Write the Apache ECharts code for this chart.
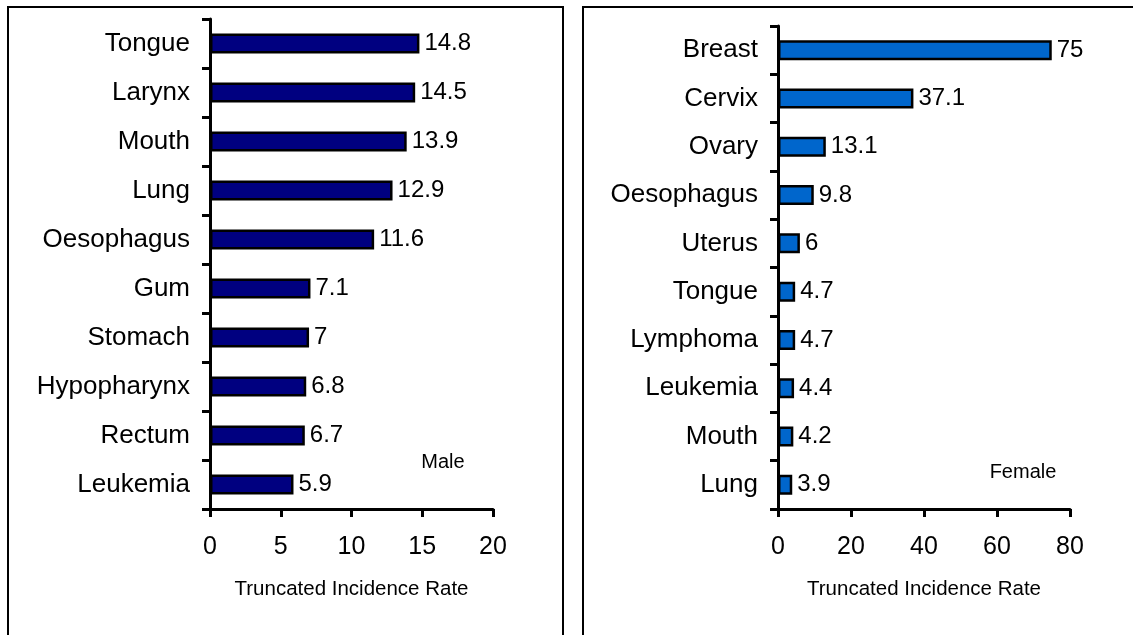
<!DOCTYPE html>
<html>
<head>
<meta charset="utf-8">
<script src="https://cdn.jsdelivr.net/npm/echarts@6/dist/echarts.min.js"></script>
<style>
html,body{margin:0;padding:0;background:#fff;}
#c{width:1133px;height:635px;}
</style>
</head>
<body>
<div id="c"></div>
<script>
var maleCategories = ['Tongue','Larynx','Mouth','Lung','Oesophagus','Gum','Stomach','Hypopharynx','Rectum','Leukemia'];
var maleValues = [14.8,14.5,13.9,12.9,11.6,7.1,7,6.8,6.7,5.9];
var femaleCategories = ['Breast','Cervix','Ovary','Oesophagus','Uterus','Tongue','Lymphoma','Leukemia','Mouth','Lung'];
var femaleValues = [75,37.1,13.1,9.8,6,4.7,4.7,4.4,4.2,3.9];
var axisTitle = 'Truncated Incidence Rate';
var maleLabel = 'Male';
var femaleLabel = 'Female';

var FONT = 'Liberation Sans, Arial, sans-serif';
var chart = echarts.init(document.getElementById('c'));

function xAx(idx, max, interval){
  return {
    type:'value', gridIndex:idx, min:0, max:max, interval:interval,
    name: axisTitle, nameLocation:'middle', nameGap:70,
    nameTextStyle:{color:'#000', fontSize:20.5, fontFamily:FONT},
    axisLine:{show:true, lineStyle:{color:'#000', width:3}},
    axisTick:{show:true, length:8, lineStyle:{color:'#000', width:3}},
    axisLabel:{color:'#000', fontSize:25, fontFamily:FONT, margin:26},
    splitLine:{show:false}
  };
}
function yAx(idx, cats){
  return {
    type:'category', gridIndex:idx, data:cats, inverse:true,
    axisLine:{show:true, lineStyle:{color:'#000', width:3}},
    axisTick:{show:true, length:8, lineStyle:{color:'#000', width:3}},
    axisLabel:{color:'#000', fontSize:26, fontFamily:FONT, margin:20},
    splitLine:{show:false}
  };
}
function ser(idx, vals, color){
  return {
    type:'bar', xAxisIndex:idx, yAxisIndex:idx, data:vals, barWidth:20,
    itemStyle:{color:color, borderColor:'#000', borderWidth:2.5},
    label:{show:true, position:'right', distance:5, color:'#000', fontSize:24, fontFamily:FONT},
    animation:false
  };
}

chart.setOption({
  animation:false,
  backgroundColor:'#fff',
  grid:[
    {left:210, right:640, top:19, bottom:126},
    {left:778, right:63, top:26, bottom:126}
  ],
  xAxis:[xAx(0,20,5), xAx(1,80,20)],
  yAxis:[yAx(0,maleCategories), yAx(1,femaleCategories)],
  series:[ser(0,maleValues,'#000080'), ser(1,femaleValues,'#0066CC')],
  graphic:[
    {type:'rect', shape:{x:8,y:7,width:555,height:700}, style:{fill:'none', stroke:'#000', lineWidth:2}, silent:true},
    {type:'rect', shape:{x:583,y:7,width:600,height:700}, style:{fill:'none', stroke:'#000', lineWidth:2}, silent:true},
    {type:'text', x:443, y:462, style:{text:maleLabel, fontSize:20, fontFamily:FONT, fill:'#000', align:'center', verticalAlign:'middle'}},
    {type:'text', x:1023, y:472, style:{text:femaleLabel, fontSize:20, fontFamily:FONT, fill:'#000', align:'center', verticalAlign:'middle'}}
  ]
});
</script>
</body>
</html>
